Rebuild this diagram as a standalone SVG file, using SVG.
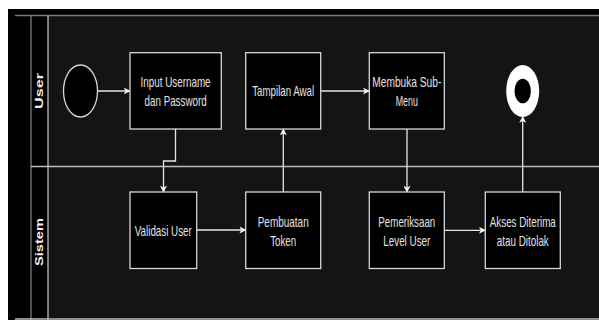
<svg xmlns="http://www.w3.org/2000/svg" width="599" height="320" viewBox="0 0 599 320">
<defs>
<style>
.box{fill:#000;stroke:#d6d6d6;stroke-width:1.3}
.lbl{font-family:"Liberation Sans",Arial,sans-serif;font-size:14.5px;fill:#e2e2e2;text-anchor:middle}
.lane{font-family:"Liberation Sans",Arial,sans-serif;font-size:15px;font-weight:bold;fill:#f0f0f0;text-anchor:middle}
.edge{fill:none;stroke:#e6e6e6;stroke-width:1.3}
</style>
<marker id="arr" viewBox="0 0 10 10" refX="9" refY="5" markerWidth="7" markerHeight="7" markerUnits="userSpaceOnUse" orient="auto">
<path d="M0,0 L10,5 L0,10 L2.5,5 Z" fill="#f2f2f2"/>
</marker>
</defs>
<rect x="0" y="0" width="599" height="320" fill="#fff"/>
<rect x="8" y="9" width="591" height="311" fill="#000"/>
<rect x="48" y="15.5" width="551" height="303" fill="#141414"/>
<g id="pool">
<line x1="15" y1="15.5" x2="599" y2="15.5" stroke="#7a7a7a" stroke-width="1.3"/>
<line x1="31" y1="15.5" x2="31" y2="320" stroke="#7a7a7a" stroke-width="1.3"/>
<line x1="48" y1="15.5" x2="48" y2="320" stroke="#bdbdbd" stroke-width="1.3"/>
<line x1="31" y1="166.5" x2="599" y2="166.5" stroke="#bdbdbd" stroke-width="1.3"/>
<line x1="15" y1="319" x2="599" y2="319" stroke="#bdbdbd" stroke-width="1.3"/>
</g>
<g id="lane-user"><text class="lane" transform="translate(43,91) scale(0.75,1) rotate(-90)" textLength="36" lengthAdjust="spacingAndGlyphs">User</text></g>
<g id="lane-sistem"><text class="lane" transform="translate(43,242) scale(0.75,1) rotate(-90)" textLength="48" lengthAdjust="spacingAndGlyphs">Sistem</text></g>
<g id="connectors">
<line class="edge" x1="97.5" y1="91" x2="130" y2="91" marker-end="url(#arr)"/>
<path class="edge" d="M175.5,129 V161 H163.5 V192" marker-end="url(#arr)"/>
<line class="edge" x1="196.7" y1="230" x2="245.7" y2="230" marker-end="url(#arr)"/>
<line class="edge" x1="283.3" y1="192" x2="283.3" y2="129" marker-end="url(#arr)"/>
<line class="edge" x1="320.7" y1="91" x2="369.3" y2="91" marker-end="url(#arr)"/>
<line class="edge" x1="407" y1="129" x2="407" y2="192" marker-end="url(#arr)"/>
<line class="edge" x1="444.3" y1="230.3" x2="485.3" y2="230.3" marker-end="url(#arr)"/>
<line class="edge" x1="522.7" y1="192" x2="522.7" y2="116.5" marker-end="url(#arr)"/>
</g>
<g id="start"><ellipse cx="80.5" cy="91" rx="17" ry="26" fill="#000" stroke="#d6d6d6" stroke-width="1.3"/></g>
<g id="input">
<rect class="box" x="130" y="52.7" width="91.3" height="76.3"/>
<text class="lbl" x="175.6" y="86.5" textLength="70" lengthAdjust="spacingAndGlyphs">Input Username</text>
<text class="lbl" x="175.6" y="105.5" textLength="62" lengthAdjust="spacingAndGlyphs">dan Password</text>
</g>
<g id="tampilan">
<rect class="box" x="245.7" y="52.7" width="75" height="76.3"/>
<text class="lbl" x="283.2" y="95.5" textLength="62" lengthAdjust="spacingAndGlyphs">Tampilan Awal</text>
</g>
<g id="membuka">
<rect class="box" x="369.3" y="52.7" width="75" height="76.3"/>
<text class="lbl" x="406.8" y="86.5" textLength="69" lengthAdjust="spacingAndGlyphs">Membuka Sub-</text>
<text class="lbl" x="406.8" y="105.5" textLength="22" lengthAdjust="spacingAndGlyphs">Menu</text>
</g>
<g id="end">
<ellipse cx="522.7" cy="91" rx="16.5" ry="26" fill="#fff"/>
<ellipse cx="522.7" cy="91" rx="8.2" ry="12.3" fill="#000"/>
</g>
<g id="validasi">
<rect class="box" x="130" y="192" width="66.7" height="76.5"/>
<text class="lbl" x="163.3" y="235.5" textLength="57" lengthAdjust="spacingAndGlyphs">Validasi User</text>
</g>
<g id="pembuatan">
<rect class="box" x="245.7" y="192" width="75" height="76.5"/>
<text class="lbl" x="283.2" y="226.5" textLength="51" lengthAdjust="spacingAndGlyphs">Pembuatan</text>
<text class="lbl" x="283.2" y="245.5" textLength="26" lengthAdjust="spacingAndGlyphs">Token</text>
</g>
<g id="pemeriksaan">
<rect class="box" x="369.3" y="192" width="75" height="76.5"/>
<text class="lbl" x="406.8" y="226.5" textLength="57" lengthAdjust="spacingAndGlyphs">Pemeriksaan</text>
<text class="lbl" x="406.8" y="245.5" textLength="47" lengthAdjust="spacingAndGlyphs">Level User</text>
</g>
<g id="akses">
<rect class="box" x="485.3" y="192" width="75" height="76.5"/>
<text class="lbl" x="522.8" y="226.5" textLength="66" lengthAdjust="spacingAndGlyphs">Akses Diterima</text>
<text class="lbl" x="522.8" y="245.5" textLength="52" lengthAdjust="spacingAndGlyphs">atau Ditolak</text>
</g>
</svg>
